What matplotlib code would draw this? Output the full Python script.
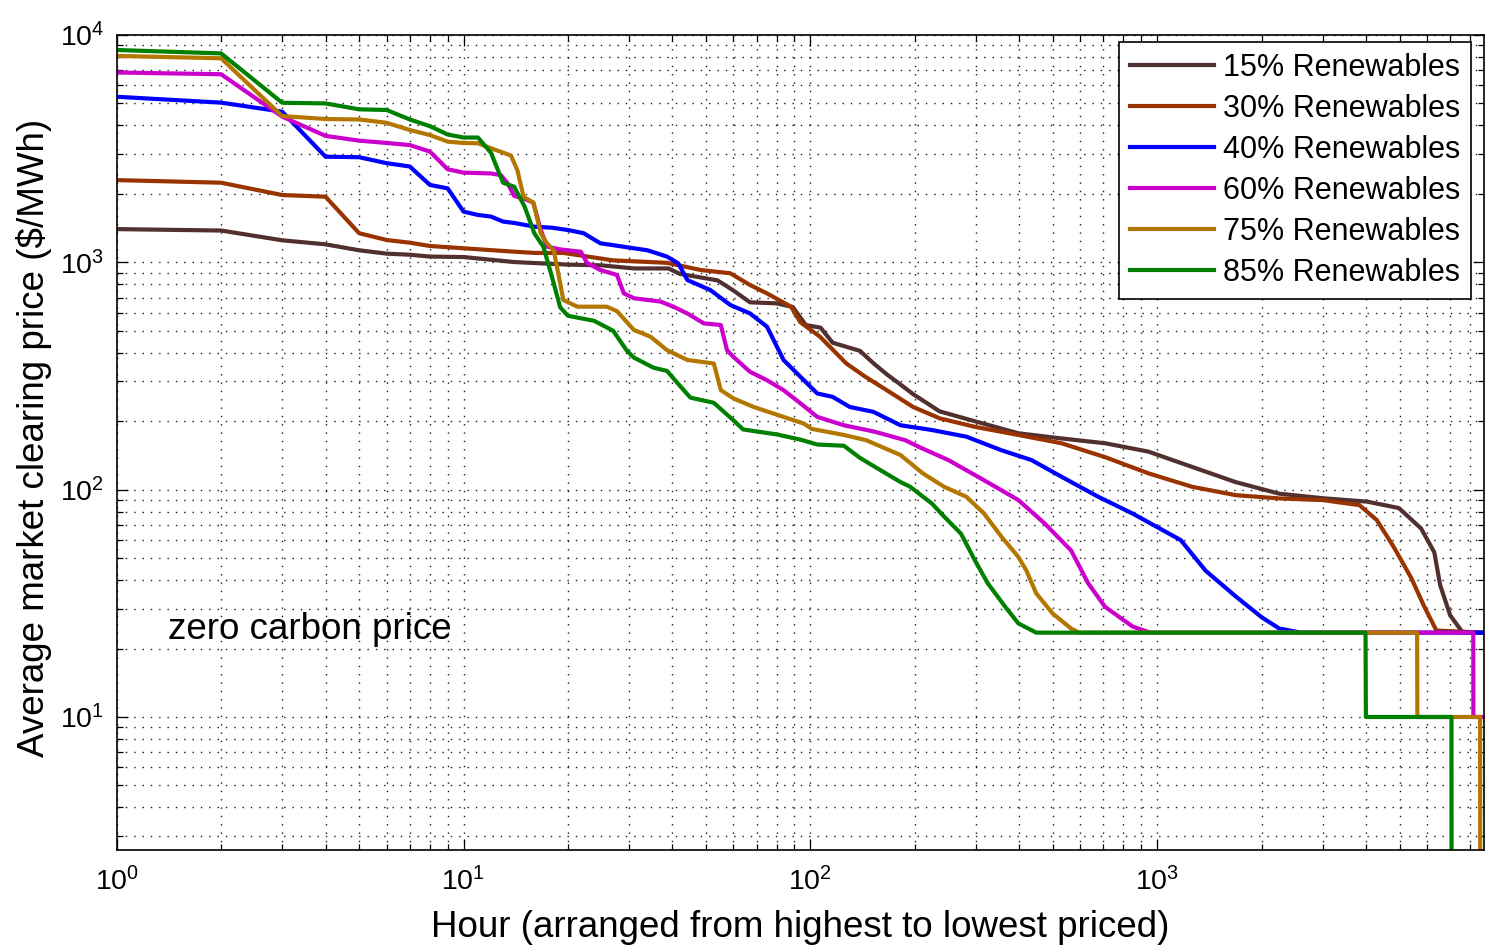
import numpy as np
import matplotlib
matplotlib.use('Agg')
import matplotlib.pyplot as plt
from matplotlib.ticker import LogLocator, NullFormatter

# price duration curves (hours sorted by price)
hours_15 = [1, 2, 3, 4, 5, 6, 7, 8, 10, 14, 20, 25, 31, 39, 42, 54, 60, 67, 80, 89, 97, 107, 116, 139,
            152, 166, 182, 198, 236, 298, 398, 530, 708, 944, 1260, 1684, 2250, 3000, 4030, 4980, 5770,
            6300, 6550, 7000, 7610, 8760]
price_15 = [1400, 1380, 1250, 1200, 1130, 1092, 1080, 1060, 1055, 1003, 977, 970, 940, 940, 890, 833, 752,
            667, 660, 636, 530, 516, 443, 408, 360, 322, 290, 263, 221, 200, 177, 168, 160, 147, 126, 108,
            96, 91.7, 88.6, 83, 67.5, 53, 38, 28, 23.5, 23.5]

hours_30 = [1, 2, 3, 4, 5, 6, 7, 8, 10, 14, 16, 19.4, 27, 38.6, 48.3, 58.8, 67, 75, 88, 93.6, 106.6, 127,
            144, 166, 198, 236, 298, 398, 530, 708, 944, 1260, 1684, 2250, 3000, 3830, 4300, 4810, 5400,
            5900, 6390, 8760]
price_30 = [2300, 2240, 1977, 1944, 1343, 1254, 1220, 1180, 1153, 1114, 1100, 1100, 1020, 995, 925, 895,
            795, 730, 638, 545, 471, 359, 314, 274, 231, 206, 189, 174, 160, 139, 118, 103, 94.6, 91.5, 90,
            85.5, 73.5, 56, 41, 30.5, 24, 23.5]

hours_40 = [1, 2, 3, 4, 5, 6, 7, 8, 9, 10, 11, 12, 13, 14, 16, 18, 20, 22.2, 24.8, 31, 33.9, 38.6, 41.6,
            44.2, 51.5, 58.8, 67, 75, 83.7, 93.6, 104.7, 116, 130, 152, 182, 224, 282, 356, 434, 530, 677,
            850, 1170, 1380, 1690, 2000, 2250, 2600, 8760]
price_40 = [5350, 5040, 4600, 2915, 2900, 2730, 2640, 2190, 2115, 1672, 1616, 1590, 1511, 1490, 1435, 1420,
            1387, 1343, 1213, 1153, 1130, 1060, 990, 836, 755, 649, 596, 521, 372, 314, 265, 256, 231, 220,
            192, 183, 171, 149, 135, 114, 93, 78.5, 60, 44, 33.8, 27.5, 24.5, 23.5, 23.5]

hours_60 = [1, 2, 3, 4, 5, 6, 7, 8, 9, 10, 12, 12.8, 13.4, 14, 15, 15.9, 16.7, 17.4, 19, 21.8, 22.7, 24.8,
            27.7, 29, 31, 37, 40.3, 44.2, 49.3, 55.2, 57.5, 60, 67, 75, 83.7, 93.6, 104.7, 125, 153, 188,
            206, 250, 317, 398, 474, 565, 633, 708, 850, 955, 8160, 8165, 8760]
price_60 = [6840, 6720, 4375, 3600, 3430, 3350, 3280, 3070, 2567, 2480, 2460, 2420, 2227, 1960, 1900, 1830,
            1390, 1172, 1140, 1113, 995, 925, 880, 730, 695, 672, 638, 596, 539, 530, 411, 384, 330, 303,
            274, 240, 209, 192, 180, 165, 154, 135, 110, 90, 71, 54, 38.7, 30.5, 25, 23.5, 23.5, 10, 10]

hours_75 = [1, 2, 3, 4, 5, 6, 7, 8, 9, 10, 11, 12, 13, 13.7, 14.3, 14.9, 15.9, 16.7, 17.4, 18.2, 19, 19.4,
            21.3, 25.9, 27.7, 31, 34.6, 38.6, 44.2, 52.7, 55.2, 60, 68.7, 83.7, 96, 101, 125, 145, 182, 211,
            243, 282, 317, 356, 398, 420, 448, 500, 565, 595, 5620, 5630, 8540, 8550]
price_75 = [8090, 7900, 4400, 4270, 4250, 4110, 3820, 3630, 3396, 3350, 3340, 3175, 3040, 2950, 2540, 1944,
            1830, 1343, 1213, 1130, 809, 683, 638, 638, 610, 504, 471, 411, 372, 359, 274, 252, 231, 209, 195,
            185, 174, 165, 142, 118, 103, 93, 78.5, 62, 50.6, 44, 35, 28.5, 24.5, 23.5, 23.5, 10, 10, 0.1]

hours_85 = [1, 2, 3, 4, 5, 6, 7, 8, 9, 10, 11, 12, 13, 14, 15, 16, 17, 18, 19, 20, 23.8, 27, 29.6, 31, 35.3,
            38.6, 41.6, 45.1, 52.7, 60, 64, 80, 93.6, 104.7, 125, 139, 162, 182, 194, 224, 243, 272, 298,
            325, 365, 398, 448, 3990, 4000, 7060, 7070]
price_85 = [8590, 8300, 5035, 5000, 4710, 4680, 4250, 3970, 3650, 3540, 3540, 3034, 2240, 2150, 1760, 1343,
            1170, 861, 634, 582, 553, 500, 408, 381, 344, 333, 292, 254, 241, 202, 184, 175, 166, 158, 156,
            138, 120, 108, 103, 87, 76.2, 64, 49, 38.7, 30.5, 25.8, 23.5, 23.5, 10, 10, 0.1]

series = [(hours_15, price_15), (hours_30, price_30), (hours_40, price_40),
          (hours_60, price_60), (hours_75, price_75), (hours_85, price_85)]
labels = ['15% Renewables', '30% Renewables', '40% Renewables',
          '60% Renewables', '75% Renewables', '85% Renewables']
colors = ['#51302f', '#993300', '#0000ff', '#cc00cc', '#b37700', '#008000']

plt.rcParams['font.family'] = ['Liberation Sans', 'DejaVu Sans']
plt.rcParams['mathtext.default'] = 'regular'

fig = plt.figure(figsize=(14.85, 9.46), dpi=100)
ax = fig.add_axes([0.0786, 0.1015, 0.9207, 0.8615])

for (h, p), lab, c in zip(series, labels, colors):
    ax.plot(h, p, color=c, lw=3, label=lab)

ax.set_xscale('log')
ax.set_yscale('log')
ax.set_xlim(1, 8760)
ax.set_ylim(2.6, 1e4)

for axis in (ax.xaxis, ax.yaxis):
    axis.set_major_locator(LogLocator(base=10, numticks=12))
    axis.set_minor_locator(LogLocator(base=10, subs=np.arange(2, 10), numticks=12))
    axis.set_minor_formatter(NullFormatter())

# matlab style dotted grid
ax.grid(True, which='both', linestyle=(0, (1, 5)), color='0.1', linewidth=1)
ax.set_axisbelow(True)
ax.tick_params(which='both', direction='in', top=True, right=True, width=0.9)
ax.tick_params(which='major', length=8, labelsize=20.5)
ax.tick_params(axis='x', which='major', pad=12)
ax.tick_params(axis='y', which='major', pad=9)
ax.tick_params(which='minor', length=4)
for s in ax.spines.values():
    s.set_linewidth(1.2)

ax.set_xlabel('Hour (arranged from highest to lowest priced)', fontsize=26.5)
ax.set_ylabel('Average market clearing price ($/MWh)', fontsize=26.5)
ax.xaxis.set_label_coords(0.5, -0.074)
ax.yaxis.set_label_coords(-0.047, 0.505)

ax.text(0.0375, 0.27, 'zero carbon price', transform=ax.transAxes, fontsize=26.5, va='center', ha='left')

leg = ax.legend(loc='upper right', bbox_to_anchor=(1470.7 / 1485, 1 - 42.3 / 946),
                bbox_transform=fig.transFigure, borderaxespad=0, fontsize=22,
                handlelength=2.75, handletextpad=0.3, labelspacing=0.36, borderpad=0.35,
                fancybox=False, framealpha=1)
leg.get_frame().set_edgecolor('black')
leg.get_frame().set_linewidth(1.2)

fig.savefig('out.png', dpi=100)
